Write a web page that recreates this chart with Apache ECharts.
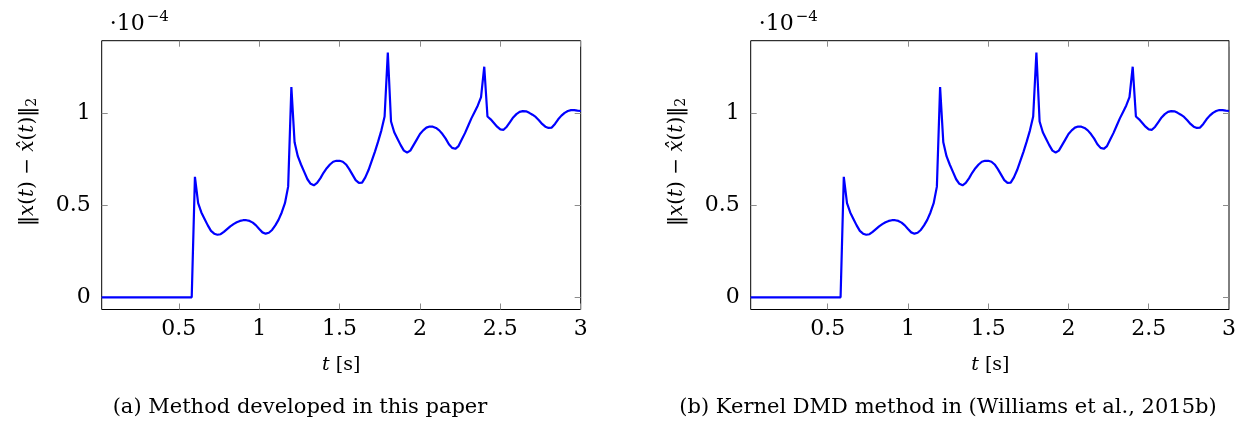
<!DOCTYPE html>
<html><head><meta charset="utf-8">
<script src="https://cdn.jsdelivr.net/npm/echarts@6/dist/echarts.min.js"></script>
<style>html,body{margin:0;padding:0;background:#fff}#c{width:1239px;height:426px}</style>
</head><body><div id="c"></div>
<script>
// time samples (s)
const tValues = [0.02,0.58,0.60,0.62,0.64,0.66,0.68,0.70,0.72,0.74,0.76,0.78,0.80,0.82,0.84,0.86,0.88,0.90,0.92,0.94,0.96,0.98,1.00,1.02,1.04,1.06,1.08,1.10,1.12,1.14,1.16,1.18,1.20,1.22,1.24,1.26,1.28,1.30,1.32,1.34,1.36,1.38,1.40,1.42,1.44,1.46,1.48,1.50,1.52,1.54,1.56,1.58,1.60,1.62,1.64,1.66,1.68,1.70,1.72,1.74,1.76,1.78,1.80,1.82,1.84,1.86,1.88,1.90,1.92,1.94,1.96,1.98,2.00,2.02,2.04,2.06,2.08,2.10,2.12,2.14,2.16,2.18,2.20,2.22,2.24,2.26,2.28,2.30,2.32,2.34,2.36,2.38,2.40,2.42,2.44,2.46,2.48,2.50,2.52,2.54,2.56,2.58,2.60,2.62,2.64,2.66,2.68,2.70,2.72,2.74,2.76,2.78,2.80,2.82,2.84,2.86,2.88,2.90,2.92,2.94,2.96,2.98,3.00];
// error norm (x 1e-4), panel (a)
const errorA = [0,0,0.653,0.51,0.46,0.425,0.39,0.36,0.345,0.339,0.342,0.355,0.37,0.385,0.397,0.407,0.414,0.418,0.418,0.414,0.405,0.39,0.37,0.352,0.345,0.35,0.365,0.39,0.42,0.46,0.51,0.60,1.14,0.84,0.765,0.72,0.68,0.64,0.615,0.607,0.62,0.645,0.675,0.70,0.72,0.735,0.740,0.740,0.735,0.72,0.695,0.665,0.635,0.62,0.622,0.65,0.69,0.74,0.79,0.845,0.905,0.98,1.327,0.953,0.895,0.86,0.825,0.795,0.785,0.795,0.825,0.855,0.885,0.905,0.92,0.926,0.925,0.918,0.905,0.885,0.86,0.83,0.81,0.805,0.82,0.855,0.89,0.93,0.97,1.005,1.04,1.085,1.25,0.98,0.965,0.945,0.925,0.91,0.908,0.925,0.95,0.975,0.993,1.005,1.009,1.008,1.0,0.99,0.978,0.96,0.94,0.925,0.918,0.92,0.94,0.965,0.985,1.0,1.01,1.015,1.015,1.012,1.01];
// panel (b) shows the same curve
const errorB = errorA.slice();
const xTicks = [0.5,1,1.5,2,2.5,3];
const yTicks = [0,0.5,1];
const captions = ['(a) Method developed in this paper','(b) Kernel DMD method in (Williams et al., 2015b)'];

const FONT = 'DejaVu Serif';
const chart = echarts.init(document.getElementById('c'));
const grids = [
  {left:101.7, width:479, top:40.7, height:268.8},
  {left:750.7, width:479.3, top:40.7, height:268.8}
];
const tickCol = '#8c8c8c';
const xAxes = [], yAxes = [], series = [], graphic = [];
[errorA, errorB].forEach((vals, g) => {
  const common = {type:'value', gridIndex:g, min:0.02, max:3, splitLine:{show:false}, axisLine:{show:false, onZero:false}};
  xAxes.push(Object.assign({}, common, {position:'bottom',
    axisTick:{show:true, inside:true, length:6, lineStyle:{color:tickCol}, customValues:xTicks},
    axisLabel:{show:true, customValues:xTicks, margin:9, fontFamily:FONT, fontSize:22, color:'#000'}}));
  xAxes.push(Object.assign({}, common, {position:'top',
    axisTick:{show:true, inside:true, length:6, lineStyle:{color:tickCol}, customValues:xTicks},
    axisLabel:{show:false}}));
  const ycommon = {type:'value', gridIndex:g, min:-0.066, max:1.391, splitLine:{show:false}, axisLine:{show:false, onZero:false}};
  yAxes.push(Object.assign({}, ycommon, {position:'left',
    axisTick:{show:true, inside:true, length:6, lineStyle:{color:tickCol}, customValues:yTicks},
    axisLabel:{show:true, customValues:yTicks, margin:11, fontFamily:FONT, fontSize:22, color:'#000'}}));
  yAxes.push(Object.assign({}, ycommon, {position:'right',
    axisTick:{show:true, inside:true, length:6, lineStyle:{color:tickCol}, customValues:yTicks},
    axisLabel:{show:false}}));
  series.push({type:'line', xAxisIndex:2*g, yAxisIndex:2*g, showSymbol:false, symbol:'none',
    lineStyle:{color:'#0000ff', width:2.2}, data: tValues.map((t,i)=>[t, vals[i]]), animation:false});
  const gr = grids[g];
  const cx = gr.left + gr.width/2;
  // x-axis name
  graphic.push({type:'text', x:cx, y:365, style:{text:'{i|t} [s]', rich:{i:{fontStyle:'italic', fontFamily:FONT, fontSize:19}}, fontFamily:FONT, fontSize:19, fill:'#000', align:'center', verticalAlign:'middle'}});
  // y-axis name
  graphic.push({type:'text', x:gr.left-74, y:162, rotation:Math.PI/2, style:{text:'‖{i|x}({i|t}) − {i|x\u0302}({i|t})‖{s|2}', rich:{i:{fontStyle:'italic', fontFamily:FONT, fontSize:20}, s:{fontFamily:FONT, fontSize:14, padding:[9,0,0,0]}}, fontFamily:FONT, fontSize:20, fill:'#000', align:'center', verticalAlign:'middle'}});
  // exponent
  graphic.push({type:'text', x:gr.left+8, y:24, style:{text:'·10', fontFamily:FONT, fontSize:22, fill:'#000', align:'left', verticalAlign:'middle'}});
  graphic.push({type:'text', x:gr.left+45, y:17, style:{text:'−4', fontFamily:FONT, fontSize:15, fill:'#000', align:'left', verticalAlign:'middle'}});
  // caption
  graphic.push({type:'text', x: g===0 ? 300 : 948, y:408, style:{text:captions[g], fontFamily:FONT, fontSize:21, fill:'#000', align:'center', verticalAlign:'middle'}});
});
chart.setOption({
  animation:false,
  backgroundColor:'#fff',
  grid: grids.map(gr=>Object.assign({show:true, borderColor:'#000', borderWidth:1, backgroundColor:'transparent'}, gr)),
  xAxis:xAxes, yAxis:yAxes, series:series, graphic:graphic
});
</script></body></html>
